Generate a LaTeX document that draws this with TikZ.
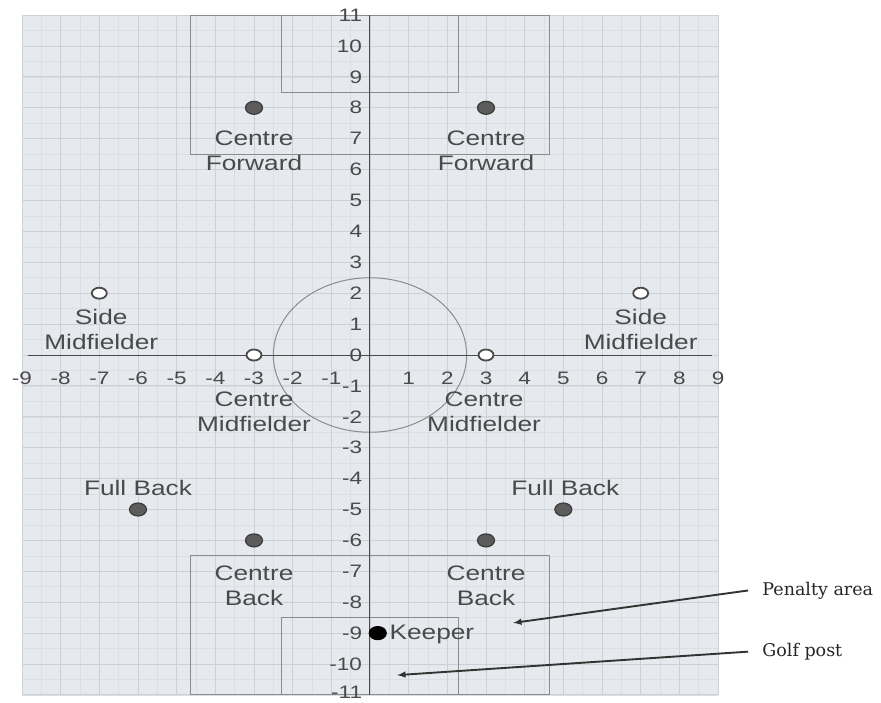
\documentclass[tikz,border=0pt]{standalone}
\usepackage{fontspec}
\setmainfont{Liberation Sans}
\newfontfamily\notefont{DejaVu Serif}
\usetikzlibrary{arrows,shapes}
\definecolor{paper}{HTML}{E6EAEE}
\definecolor{gridmaj}{HTML}{CBD1D7}
\definecolor{gridmin}{HTML}{DADFE4}
\definecolor{ink}{HTML}{4A4A4A}
\tikzstyle{role}=[font=\fontsize{21}{25}\selectfont,text=ink,align=center,xscale=1.25,transform shape,inner sep=0pt]
\tikzstyle{num}=[font=\fontsize{18}{20}\selectfont,text=ink,xscale=1.25,transform shape,inner sep=0pt]
\tikzstyle{fplayer}=[ellipse,draw=ink!80!black,fill=ink!90,line width=1.2pt,minimum width=17pt,minimum height=13pt,inner sep=0pt]
\tikzstyle{oplayer}=[ellipse,draw=ink,fill=white,line width=1.8pt,minimum width=15pt,minimum height=11pt,inner sep=0pt]
\tikzstyle{note}=[font=\notefont\fontsize{17.5}{19}\selectfont,text=black!85,anchor=west,inner xsep=14pt]
\tikzstyle{pointer}=[->,>=latex,line width=1.9pt,draw=black!80]
\tikzstyle{field}=[draw=black!45,line width=1pt]

\begin{document}
\begin{tikzpicture}[x=38.67pt,y=30.9pt]
\useasboundingbox (-370pt,-347pt) rectangle (511pt,355pt);
% squared paper
\fill[paper] (-9,-11) rectangle (9,11);
\foreach \i in {-9,-8.5,...,9} \draw[gridmin,line width=0.6pt] (\i,-11) -- (\i,11);
\foreach \j in {-11,-10.5,...,11} \draw[gridmin,line width=0.6pt] (-9,\j) -- (9,\j);
\foreach \i in {-9,...,9} \draw[gridmaj,line width=0.9pt] (\i,-11) -- (\i,11);
\foreach \j in {-11,...,11} \draw[gridmaj,line width=0.9pt] (-9,\j) -- (9,\j);
% pitch
\draw[field] (-4.65,6.5) rectangle (4.65,11);
\draw[field] (-2.3,8.5) rectangle (2.3,11);
\draw[field] (-4.65,-6.5) rectangle (4.65,-11);
\draw[field] (-2.3,-8.5) rectangle (2.3,-11);
\draw[field] (0,0) circle [x radius=2.5,y radius=2.5];
% axes
\draw[ink,line width=1pt] (-8.85,0) -- (8.85,0);
\draw[ink,line width=1pt] (0,-11) -- (0,11);
\foreach \x in {-9,...,-1,1,2,...,9} \node[num] (xl\x) at (\x,-0.75) {\x};
\foreach \y in {-10,...,11} \node[num,anchor=east] (yl\y) at (-0.2,\y) {\y};
\node[num,anchor=east] (yl-11) at (-0.2,-10.93) {-11};
% players
\node[fplayer] (cf1) at (-3,8) {};
\node[fplayer] (cf2) at (3,8) {};
\node[oplayer] (sm1) at (-7,2) {};
\node[oplayer] (sm2) at (7,2) {};
\node[oplayer] (cm1) at (-3,0) {};
\node[oplayer] (cm2) at (3,0) {};
\node[fplayer] (fb1) at (-6,-5) {};
\node[fplayer] (fb2) at (5,-5) {};
\node[fplayer] (cb1) at (-3,-6) {};
\node[fplayer] (cb2) at (3,-6) {};
\node[fplayer,fill=black,draw=black] (gk) at (0.2,-9) {};
\node[role] (cf1l) at (-3,6.6) {Centre\\Forward};
\node[role] (cf2l) at (3,6.6) {Centre\\Forward};
\node[role] (sm1l) at (-6.95,0.84) {Side\\Midfielder};
\node[role] (sm2l) at (7,0.84) {Side\\Midfielder};
\node[role] (cm1l) at (-3,-1.83) {Centre\\Midfielder};
\node[role] (cm2l) at (2.95,-1.83) {Centre\\Midfielder};
\node[role] (fb1l) at (-6,-4.3) {Full Back};
\node[role] (fb2l) at (5.05,-4.3) {Full Back};
\node[role] (cb1l) at (-3,-7.46) {Centre\\Back};
\node[role] (cb2l) at (3,-7.46) {Centre\\Back};
\node[role,anchor=west] (gkl) at (0.5,-9.05) {Keeper};
% notes
\node[note] (pen) at (9.78,-7.62) {Penalty area};
\node[note] (gp) at (9.78,-9.6) {Golf post};
\coordinate (pentip) at (3.7,-8.67);
\coordinate (gptip) at (0.7,-10.36);
\draw[pointer] (pen.west) -- (pentip);
\draw[pointer] (gp.west) -- (gptip);
\end{tikzpicture}
\end{document}
